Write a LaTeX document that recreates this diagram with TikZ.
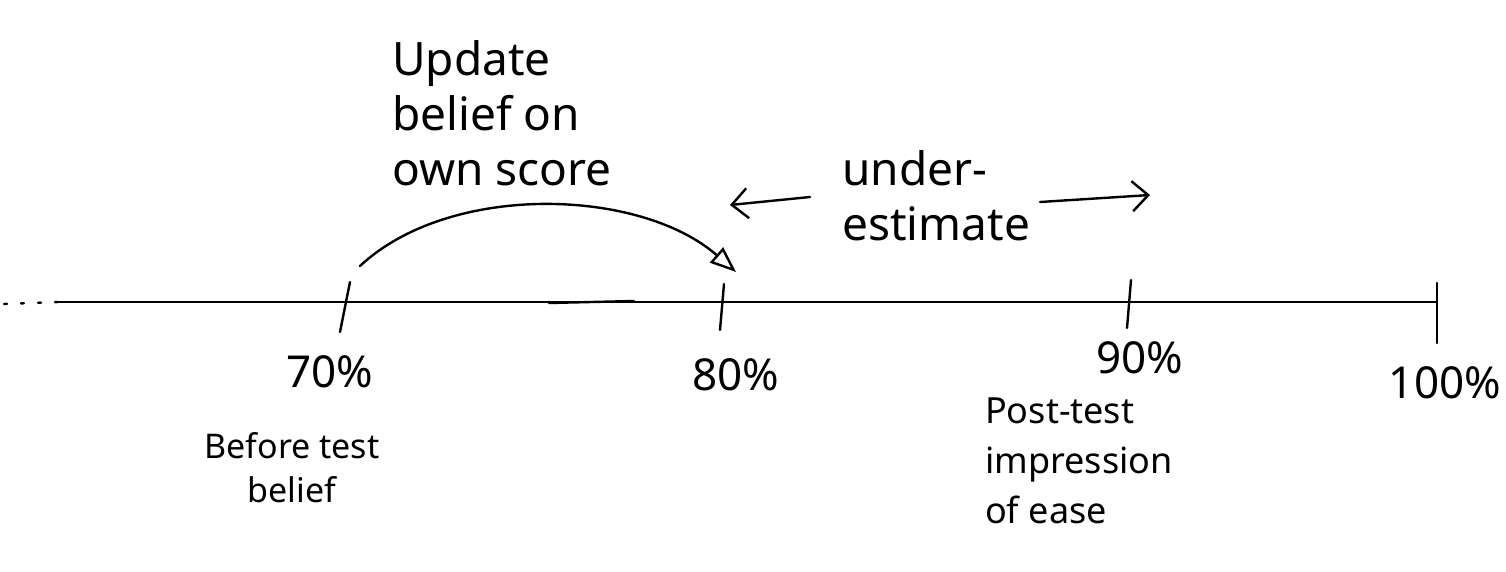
\documentclass[tikz,border=0pt]{standalone}
\usepackage{fontspec}
\setmainfont{Noto Sans}
\usetikzlibrary{arrows.meta,positioning}
\tikzset{
  hand/.style={line width=2.4pt,line cap=round,line join=round},
  big/.style={font=\fontsize{46}{55}\selectfont,align=left,inner sep=0pt},
  pct/.style={font=\fontsize{44}{50}\selectfont,inner sep=0pt},
  note/.style={font=\fontsize{36}{50}\selectfont,inner sep=0pt},
}
\begin{document}
\begin{tikzpicture}[x=1pt,y=-1pt]
		\useasboundingbox (0,0) rectangle (1506,571);
		% the scale
		\coordinate (far) at (4,304);
		\coordinate (start) at (58,302);
		\coordinate (t70) at (345,302);
		\coordinate (t80) at (722,302);
		\coordinate (t90) at (1128,302);
		\coordinate (t100) at (1437,302);
		\draw[line width=1.5pt] (start) -- (t100);
		\draw[hand,dash pattern=on 3pt off 14pt] (far) -- (start);
		\draw[hand] (549,303) -- (634,301);
		\draw[hand] (350,282) -- (340,332);
		\draw[hand] (724,284) -- (720,330);
		\draw[hand] (1131,280) -- (1127,328);
		\draw[hand] (1437,283) -- (1437,343);
		% labels under the scale
		\node[pct] (l70) at (330,372) {70\%};
		\node[pct] (l80) at (736,375) {80\%};
		\node[pct] (l90) at (1140,358) {90\%};
		\node[pct] (l100) at (1445,383) {100\%};
		\node[note,align=center,font=\fontsize{34}{44}\selectfont] (before) at (292,468) {Before test\\belief};
		\node[note,align=left,anchor=north west] (post) at (985,398) {Post-test\\impression\\of ease};
		% the update
		\node[big,anchor=north west] (update) at (392,40) {Update\\belief on\\own score};
		\coordinate (from) at (360,266);
		\coordinate (to) at (736,272);
		\draw[hand,-{Triangle[open,length=26pt,width=20pt]}] (from) .. controls (450,182) and (640,188) .. (to);
		% the gap
		\node[big,anchor=north west] (under) at (842,150) {under-\\estimate};
		\coordinate (leftend) at (810,197);
		\coordinate (lefttip) at (730,205);
		\coordinate (rightend) at (1040,202);
		\coordinate (righttip) at (1150,195);
		\draw[hand,-{Straight Barb[length=16pt,width=30pt]}] (leftend) -- (lefttip);
		\draw[hand,-{Straight Barb[length=16pt,width=30pt]}] (rightend) -- (righttip);
\end{tikzpicture}
\end{document}
